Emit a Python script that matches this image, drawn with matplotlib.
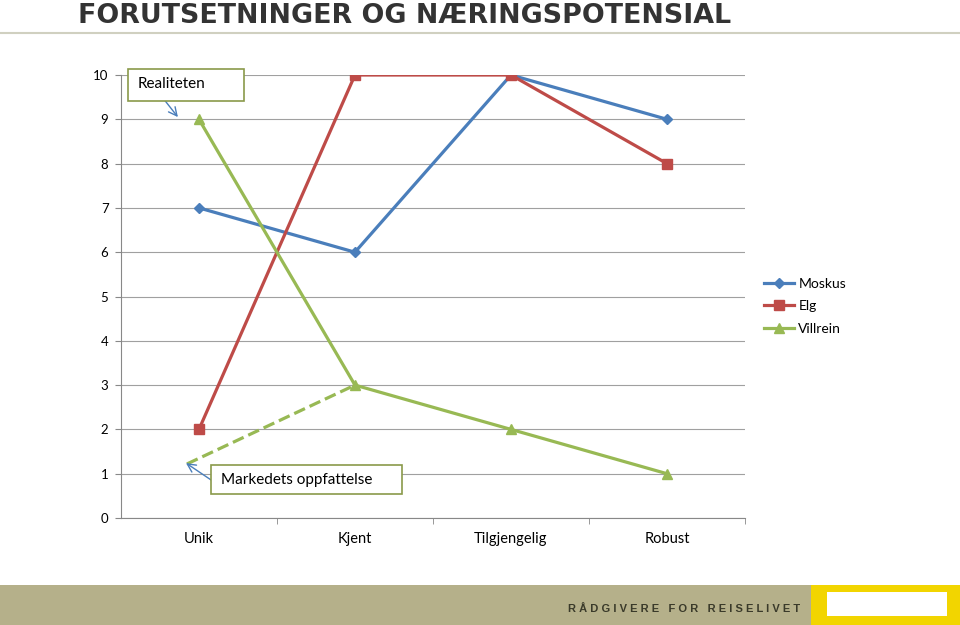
import matplotlib.pyplot as plt
from matplotlib.patches import Rectangle

plt.rcParams['font.family'] = ['Lato', 'DejaVu Sans']

kategorier = ["Unik", "Kjent", "Tilgjengelig", "Robust"]
moskus = [7, 6, 10, 9]
elg = [2, 10, 10, 8]
villrein = [9, 3, 2, 1]
# markedets oppfattelse (stiplet linje)
marked_x = [-0.077, 1]
marked_y = [1.22, 3]

fig = plt.figure(figsize=(9.6, 6.25), dpi=100)
ax = fig.add_axes([0.126, 0.1712, 0.65, 0.7088])

x = range(len(kategorier))
ax.plot(x, moskus, color="#4a7ebb", lw=2.3, marker="D", ms=5.5, label="Moskus")
ax.plot(x, elg, color="#be4b48", lw=2.3, marker="s", ms=6.5, label="Elg")
ax.plot(x, villrein, color="#98b954", lw=2.3, marker="^", ms=7.5, label="Villrein")
ax.plot(marked_x, marked_y, color="#98b954", lw=2.3, ls="--")

ax.set_xlim(-0.5, 3.5)
ax.set_ylim(0, 10)
ax.set_yticks(range(0, 11))
ax.set_xticks(list(x))
ax.set_xticklabels(kategorier)
ax.set_xticks([0.5, 1.5, 2.5, 3.5], minor=True)
ax.tick_params(axis="x", which="major", length=0, pad=10, labelsize=10.5)
ax.tick_params(axis="x", which="minor", length=4, color="#888888")
ax.tick_params(axis="y", length=4, color="#888888", labelsize=9.5, pad=5)
ax.grid(axis="y", color="#a0a0a0", lw=0.8)
ax.set_axisbelow(True)
for s in ["top", "right"]:
    ax.spines[s].set_visible(False)
ax.spines["left"].set_color("#888888")
ax.spines["bottom"].set_color("#888888")

ax.legend(loc="center left", bbox_to_anchor=(1.01, 0.478), frameon=False,
          fontsize=10, handlelength=2.2, labelspacing=0.75, handletextpad=0.3)

boks = dict(fc="white", ec="#8a9a4a", lw=1.2, transform=ax.transData, clip_on=False, zorder=5)
ax.add_patch(Rectangle((-0.455, 9.413), 0.743, 0.722, **boks))
ax.text(-0.391, 9.8, "Realiteten", fontsize=11, va="center", zorder=6, clip_on=False)
ax.annotate("", xy=(-0.135, 9.05), xytext=(-0.231, 9.48), annotation_clip=False,
            arrowprops=dict(arrowstyle="->,head_length=0.6,head_width=0.3", color="#4a7ebb",
                            lw=1, shrinkA=0, shrinkB=0))

ax.add_patch(Rectangle((0.077, 0.542), 1.224, 0.654, **boks))
ax.text(0.141, 0.86, "Markedets oppfattelse", fontsize=11, va="center", zorder=6)
ax.annotate("", xy=(-0.083, 1.24), xytext=(0.077, 0.86), annotation_clip=False,
            arrowprops=dict(arrowstyle="->,head_length=0.6,head_width=0.3", color="#4a7ebb",
                            lw=1, shrinkA=0, shrinkB=0))

fig.text(0.081, 0.975, "FORUTSETNINGER OG NÆRINGSPOTENSIAL", fontsize=19.4,
         fontweight="bold", color="#333333", va="center", family="DejaVu Sans")
fig.add_artist(plt.Line2D([0, 1], [0.947, 0.947], color="#d0d0c0", lw=1.5))

fig.add_artist(Rectangle((0, 0), 0.845, 0.064, color="#b5b08a", lw=0))
fig.add_artist(Rectangle((0.845, 0), 0.155, 0.064, color="#f2d500", lw=0))
fig.add_artist(Rectangle((0.861, 0.0144), 0.125, 0.0384, color="white", lw=0))
fig.text(0.833, 0.0256, "R Å D G I V E R E   F O R   R E I S E L I V E T",
         fontsize=8, fontweight="bold", color="#3a3a2a", ha="right", va="center",
         family="Liberation Sans")

plt.savefig("out.png")
